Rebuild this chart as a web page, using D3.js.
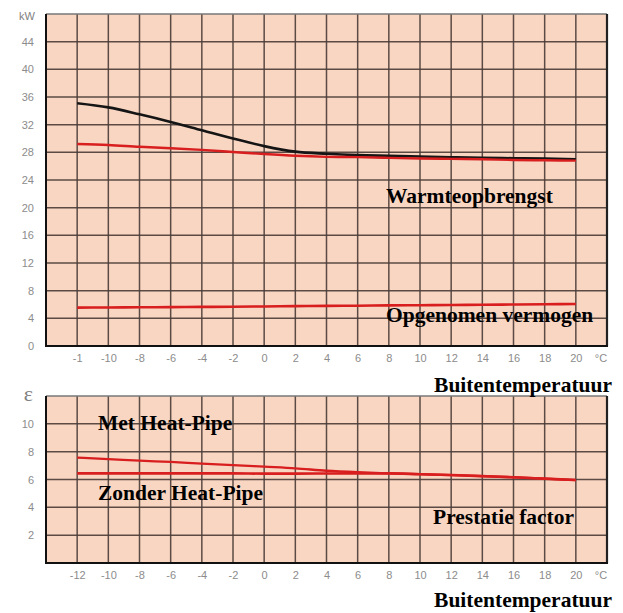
<!DOCTYPE html>
<html>
<head>
<meta charset="utf-8">
<script src="https://cdn.jsdelivr.net/npm/d3@7"></script>
<style>
  body { margin: 0; background: #fff; }
  svg { display: block; }
  .tick text { font-family: "Liberation Sans", Arial, sans-serif; font-size: 11px; fill: #8c8c8c; }
  .lbl { font-family: "Liberation Serif", "Times New Roman", serif; font-weight: bold; font-size: 21.5px; fill: #000; }
</style>
</head>
<body>
<script>
// temperatures (°C) where values were read
const temps = [-12, -10, -8, -6, -4, -2, 0, 2, 4, 6, 8, 10, 12, 14, 16, 18, 20];

// top chart, kW
const warmteMetHP = [35.1, 34.5, 33.5, 32.4, 31.2, 30.0, 28.9, 28.1, 27.8, 27.6, 27.5, 27.4, 27.3, 27.2, 27.15, 27.1, 27.0];
const warmteZonderHP = [29.2, 29.05, 28.8, 28.6, 28.35, 28.05, 27.75, 27.5, 27.35, 27.3, 27.2, 27.1, 27.05, 27.0, 26.9, 26.85, 26.8];
const opgenomen = [5.55, 5.57, 5.6, 5.62, 5.65, 5.68, 5.72, 5.76, 5.8, 5.83, 5.87, 5.9, 5.93, 5.97, 6.0, 6.03, 6.07];

// bottom chart, performance factor
const copMetHP = [7.57, 7.47, 7.35, 7.26, 7.14, 7.04, 6.92, 6.8, 6.63, 6.52, 6.44, 6.38, 6.32, 6.24, 6.16, 6.06, 5.96];
const copZonderHP = [6.44, 6.44, 6.44, 6.44, 6.44, 6.44, 6.42, 6.42, 6.43, 6.44, 6.44, 6.38, 6.32, 6.24, 6.16, 6.06, 5.96];

// tick labels
const topXLabels = ["-1", "-10", "-8", "-6", "-4", "-2", "0", "2", "4", "6", "8", "10", "12", "14", "16", "18", "20"];
const botXLabels = ["-12", "-10", "-8", "-6", "-4", "-2", "0", "2", "4", "6", "8", "10", "12", "14", "16", "18", "20"];
const topYTicks = [0, 4, 8, 12, 16, 20, 24, 28, 32, 36, 40, 44];
const botYTicks = [2, 4, 6, 8, 10];

const W = 623, H = 613;
const svg = d3.select("body").append("svg").attr("width", W).attr("height", H);

const x = d3.scaleLinear().domain([-14, 22]).range([46, 607]);
const gridX = d3.range(-12, 22, 2);

function panel(top, bottom, ymax, yticks, gridY, xLabels, yUnit) {
    const y = d3.scaleLinear().domain([0, ymax]).range([bottom, top]);
    const g = svg.append("g");

    g.append("rect")
        .attr("x", x.range()[0]).attr("y", top)
        .attr("width", x.range()[1] - x.range()[0]).attr("height", bottom - top)
        .attr("fill", "#f9d6c2");

    // grid
    g.selectAll("line.vg").data(gridX).enter().append("line")
        .attr("x1", d => x(d)).attr("x2", d => x(d))
        .attr("y1", top).attr("y2", bottom)
        .attr("stroke", "#4a3c37").attr("stroke-width", 1.5).attr("stroke-opacity", 0.9);
    g.selectAll("line.hg").data(gridY).enter().append("line")
        .attr("x1", x.range()[0]).attr("x2", x.range()[1])
        .attr("y1", d => y(d)).attr("y2", d => y(d))
        .attr("stroke", "#4a3c37").attr("stroke-width", 1.5).attr("stroke-opacity", 0.9);

    // frame
    g.append("line").attr("x1", 46).attr("x2", 607).attr("y1", top).attr("y2", top)
        .attr("stroke", "#777").attr("stroke-width", 1.5);
    g.append("line").attr("x1", 607).attr("x2", 607).attr("y1", top).attr("y2", bottom)
        .attr("stroke", "#222").attr("stroke-width", 2.2);
    g.append("line").attr("x1", 46).attr("x2", 46).attr("y1", top).attr("y2", bottom + 1)
        .attr("stroke", "#111").attr("stroke-width", 2);
    g.append("line").attr("x1", 45).attr("x2", 608).attr("y1", bottom).attr("y2", bottom)
        .attr("stroke", "#111").attr("stroke-width", 2);

    // axes (labels only)
    const xa = g.append("g").attr("transform", `translate(0,${bottom + 2})`)
        .call(d3.axisBottom(x).tickValues(temps).tickSize(0).tickPadding(6)
            .tickFormat((d, i) => xLabels[i]));
    xa.select(".domain").remove();
    xa.append("text").attr("x", x(22) - 6).attr("y", 6).attr("dy", "0.71em")
        .attr("text-anchor", "middle")
        .style("font-family", "Liberation Sans, Arial, sans-serif").style("font-size", "11px")
        .attr("fill", "#8c8c8c").text("°C");

    const ya = g.append("g").attr("transform", "translate(36,0)")
        .call(d3.axisLeft(y).tickValues(yticks).tickSize(0).tickPadding(2)
            .tickFormat(d3.format("d")));
    ya.select(".domain").remove();
    const unit = ya.append("text").attr("text-anchor", "end").attr("fill", "#808080").text(yUnit);
    if (yUnit === "kW") {
        unit.attr("x", -1).attr("y", y(ymax) + 2).attr("dy", "0.32em")
            .style("font-family", "Liberation Sans, Arial, sans-serif").style("font-size", "11px");
    } else {
        unit.attr("x", -3).attr("y", y(ymax) + 5)
            .style("font-family", "Liberation Serif, serif").style("font-size", "22px");
    }
    return y;
}

function curve(y, vals, color, width) {
    const line = d3.line().x((d, i) => x(temps[i])).y(d => y(d)).curve(d3.curveMonotoneX);
    svg.append("path").datum(vals)
        .attr("d", line).attr("fill", "none")
        .attr("stroke", color).attr("stroke-width", width)
        .attr("stroke-linecap", "butt");
}

const yTop = panel(14, 346, 48, topYTicks, d3.range(4, 48, 4), topXLabels, "kW");
curve(yTop, warmteMetHP, "#151515", 2.6);
curve(yTop, warmteZonderHP, "#d81e1e", 2.4);
curve(yTop, opgenomen, "#d81e1e", 2.6);

const yBot = panel(396, 563, 12, botYTicks, d3.range(2, 12, 2), botXLabels, "ε");
curve(yBot, copMetHP, "#d81e1e", 2.3);
curve(yBot, copZonderHP, "#d81e1e", 2.6);

const labels = [
    { t: "Warmteopbrengst", x: 386, y: 202.5, a: "start" },
    { t: "Opgenomen vermogen", x: 386, y: 322, a: "start" },
    { t: "Buitentemperatuur", x: 612, y: 391.5, a: "end" },
    { t: "Met Heat-Pipe", x: 98, y: 430, a: "start" },
    { t: "Zonder Heat-Pipe", x: 98, y: 499.5, a: "start" },
    { t: "Prestatie factor", x: 433, y: 524, a: "start" },
    { t: "Buitentemperatuur", x: 612, y: 607, a: "end" }
];
svg.selectAll("text.lbl").data(labels).enter().append("text")
    .attr("class", "lbl")
    .attr("x", d => d.x).attr("y", d => d.y)
    .attr("text-anchor", d => d.a)
    .text(d => d.t);
</script>
</body>
</html>
